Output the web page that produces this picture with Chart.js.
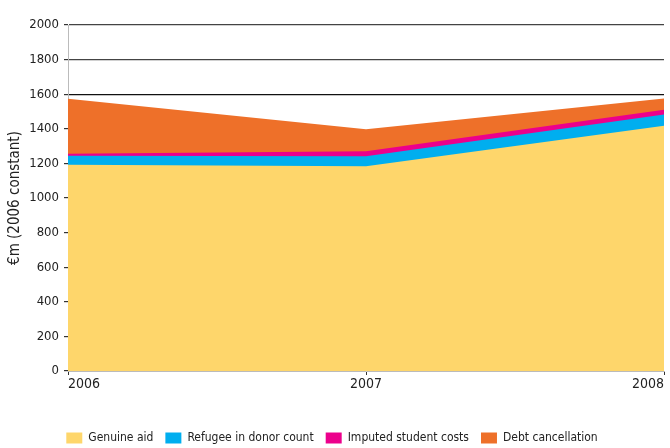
<!DOCTYPE html>
<html>
<head>
<meta charset="utf-8">
<script src="https://cdn.jsdelivr.net/npm/chart.js@4"></script>
<style>
  html, body { margin: 0; padding: 0; background: #fff; }
  #wrap { width: 670px; height: 448px; }
</style>
</head>
<body>
<div id="wrap"><canvas id="grafico"></canvas></div>
<script>
// datos (millones de euros, 2006 constantes)
var years = ['2006', '2007', '2008'];
var genuineAid = [1192, 1183, 1418];
var refugeeCosts = [52, 59, 65];
var studentCosts = [12, 28, 27];
var debtCancellation = [317, 127, 65];

var yTicks = [0, 200, 400, 600, 800, 1000, 1200, 1400, 1600, 1800, 2000];

var fontFamily = '"Liberation Sans Narrow", "DejaVu Sans Condensed", sans-serif';

function serie(label, values, color) {
    return {
        label: label,
        data: values,
        backgroundColor: color,
        borderColor: color,
        borderWidth: 0,
        pointRadius: 0,
        fill: true,
        tension: 0
    };
}

var ctx = document.getElementById('grafico').getContext('2d');
var myChart = new Chart(ctx, {
    type: 'line',
    data: {
        labels: years,
        datasets: [
            serie('Genuine aid', genuineAid, '#FED66B'),
            serie('Refugee in donor count', refugeeCosts, '#00AEEF'),
            serie('Imputed student costs', studentCosts, '#EC008C'),
            serie('Debt cancellation', debtCancellation, '#EE7029')
        ]
    },
    options: {
        responsive: true,
        maintainAspectRatio: false,
        animation: false,
        layout: { padding: { left: 0, right: 6, top: 25, bottom: -6 } },
        elements: { line: { borderWidth: 0 } },
        scales: {
            x: {
                offset: false,
                afterFit: function(scale) { scale.height = 49; },
                grid: { drawOnChartArea: false, drawTicks: true, tickLength: 4, color: '#333' },
                border: { color: '#bbb', width: 1 },
                ticks: { color: '#222', align: 'inner', maxRotation: 0, padding: 1, font: { family: fontFamily, size: 14 } }
            },
            y: {
                stacked: true,
                min: 0,
                max: 2000,
                afterBuildTicks: function(scale) {
                    scale.ticks = yTicks.map(function(v) { return { value: v }; });
                },
                afterFit: function(scale) { scale.width = 68; },
                grid: {
                    // solo se ven las líneas por encima de las áreas
                    color: function(c) {
                        if (!c.tick || c.tick.value < 1600) return 'rgba(0,0,0,0)';
                        return c.tick.value === 1600 ? '#111' : '#444';
                    },
                    tickColor: '#333',
                    tickLength: 4,
                    lineWidth: 1.2
                },
                border: { color: '#bbb', width: 1 },
                ticks: {
                    color: '#222',
                    padding: 5,
                    font: { family: fontFamily, size: 13 },
                    callback: function(v) { return String(v); }
                },
                title: {
                    display: true,
                    text: '€m (2006 constant)',
                    color: '#222',
                    padding: { top: 6, bottom: 2 },
                    font: { family: fontFamily, size: 15 }
                }
            }
        },
        plugins: {
            legend: {
                position: 'bottom',
                labels: {
                    boxWidth: 16,
                    boxHeight: 11,
                    padding: 12,
                    color: '#222',
                    font: { family: fontFamily, size: 12 }
                }
            },
            tooltip: { enabled: false }
        }
    }
});
</script>
</body>
</html>
